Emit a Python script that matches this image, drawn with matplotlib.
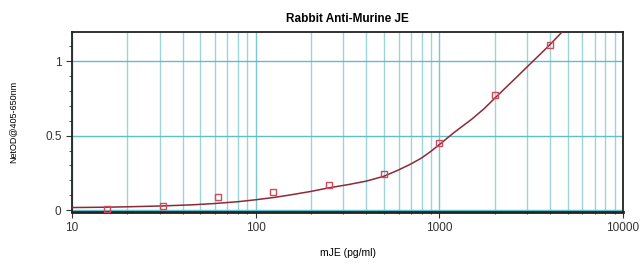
import matplotlib
matplotlib.use("Agg")
import matplotlib.pyplot as plt
from matplotlib.ticker import LogLocator, FixedLocator, NullFormatter, FuncFormatter

plt.rcParams['font.family'] = ['Liberation Sans', 'DejaVu Sans']

# Data
conc = [15.6, 31.25, 62.5, 125, 250, 500, 1000, 2000, 4000]
od = [0.005, 0.03, 0.087, 0.125, 0.17, 0.24, 0.45, 0.77, 1.11]

# Fitted curve
curve_x = [10, 15, 20, 30, 45, 60, 80, 100, 125, 150, 200, 250, 320, 400, 500, 600, 700, 800,
           900, 1000, 1200, 1500, 1750, 2000, 2500, 3000, 3500, 4000, 4700]
curve_y = [0.018, 0.020, 0.023, 0.028, 0.036, 0.045, 0.057, 0.07, 0.085, 0.10, 0.126, 0.15,
           0.172, 0.195, 0.228, 0.27, 0.31, 0.35, 0.395, 0.44, 0.52, 0.61, 0.68, 0.75, 0.865,
           0.96, 1.04, 1.11, 1.20]

title = "Rabbit Anti-Murine JE"
xlabel = "mJE (pg/ml)"
ylabel = "NetOD@405-650nm"
xticks = [10, 100, 1000, 10000]
yticks = [0, 0.5, 1]

fig = plt.figure(figsize=(6.41, 2.66), dpi=100)
ax = fig.add_axes([72/641, 54/266, 551/641, 180/266])

ax.set_xscale("log")
ax.set_xlim(10, 10000)
ax.set_ylim(-0.012, 1.195)

ax.xaxis.set_major_locator(FixedLocator(xticks))
ax.xaxis.set_major_formatter(FuncFormatter(lambda v, p: f"{int(v)}"))
ax.xaxis.set_minor_locator(LogLocator(base=10, subs=range(2, 10)))
ax.xaxis.set_minor_formatter(NullFormatter())
ax.yaxis.set_major_locator(FixedLocator(yticks))
ax.yaxis.set_major_formatter(FuncFormatter(lambda v, p: f"{v:g}"))
ax.yaxis.set_minor_locator(FixedLocator([i/10 for i in range(0, 12)]))

ax.grid(True, which="major", axis="y", color="#5fbfc8", lw=1.0)
ax.grid(True, which="major", axis="x", color="#7cc6cf", lw=1.0)
ax.grid(True, which="minor", axis="x", color="#9fd3da", lw=1.0)

ax.plot(curve_x, curve_y, color="#8b2a35", lw=1.1, zorder=3, clip_on=True)
ax.plot(conc, od, ls="none", marker="s", ms=5, mfc="none", mec="#d04a5a", mew=1.0, zorder=4)

for s in ax.spines.values():
    s.set_color("#222222")
    s.set_linewidth(1.3)
ax.spines["bottom"].set_linewidth(2.0)

ax.tick_params(axis="both", which="major", labelsize=8.5, colors="#333333", length=4, width=0.8)
ax.tick_params(axis="x", which="minor", length=3, direction="inout", color="#333333")
ax.tick_params(axis="y", which="minor", length=2, color="#333333")

ax.set_title(title, fontsize=8.5, fontweight="bold", pad=7)
ax.set_xlabel(xlabel, fontsize=7.5, labelpad=10)
ax.set_ylabel(ylabel, fontsize=6.5, labelpad=20)

fig.savefig("out.png", dpi=100)
